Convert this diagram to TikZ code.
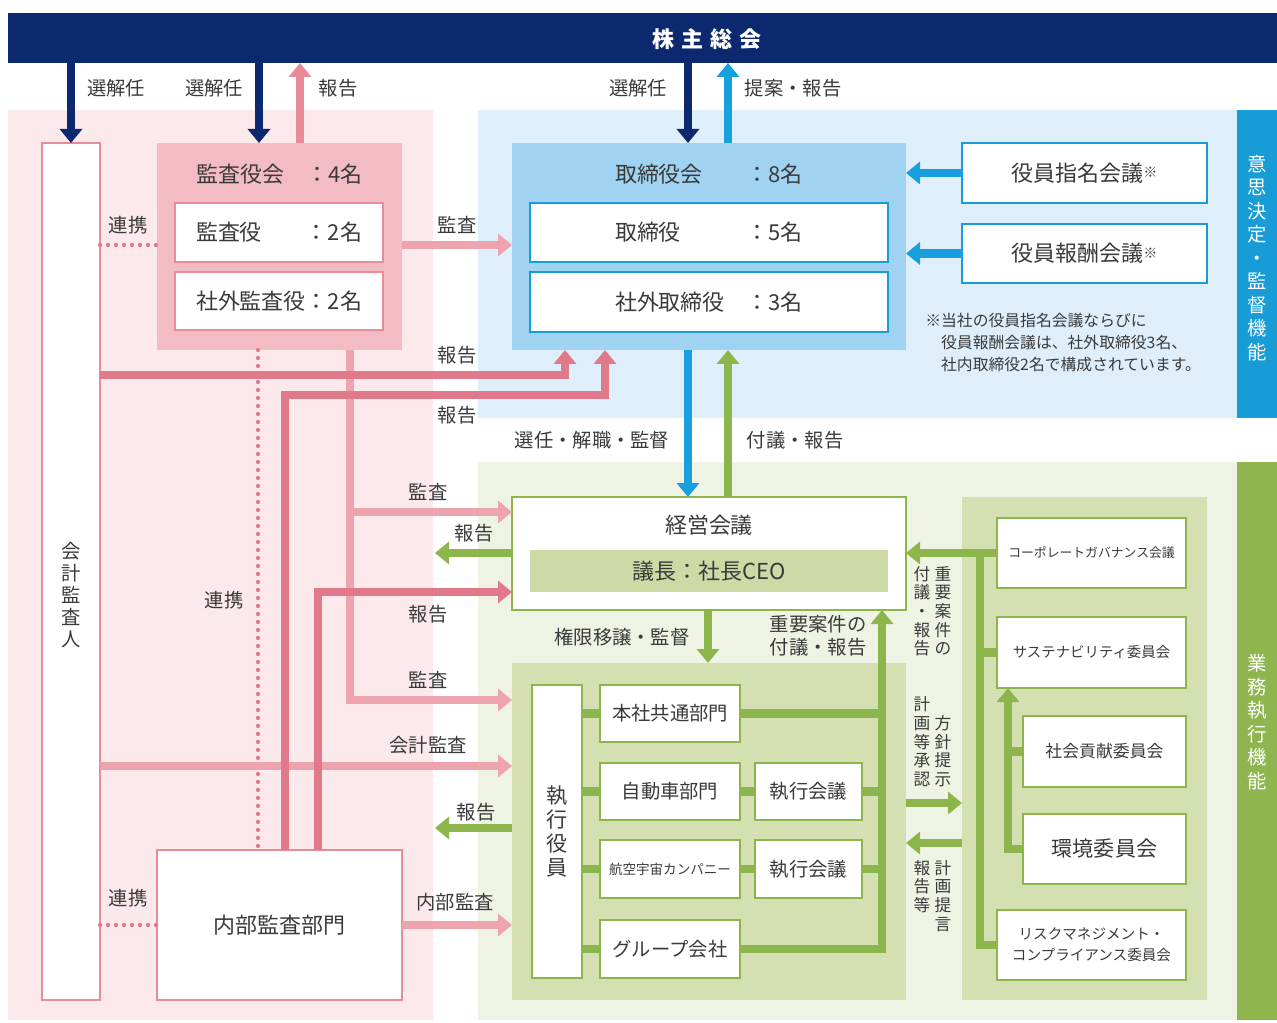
\documentclass[tikz,border=0pt]{standalone}
\usepackage{fontspec}
\setmainfont{Noto Sans CJK JP}
\usetikzlibrary{arrows.meta}

\definecolor{navyband}{RGB}{12,40,110}
\definecolor{barblue}{RGB}{24,156,216}
\definecolor{arrblue}{RGB}{24,160,222}
\definecolor{bgblue}{RGB}{222,238,250}
\definecolor{boardblue}{RGB}{160,210,242}
\definecolor{bgpink}{RGB}{251,233,236}
\definecolor{boxpink}{RGB}{243,188,196}
\definecolor{edgepink}{RGB}{232,140,154}
\definecolor{midpink}{RGB}{232,138,152}
\definecolor{darkpink}{RGB}{224,122,138}
\definecolor{lightpink}{RGB}{238,164,175}
\definecolor{bggreen}{RGB}{239,243,228}
\definecolor{boxgreen}{RGB}{212,223,178}
\definecolor{ceogreen}{RGB}{205,218,165}
\definecolor{linegreen}{RGB}{140,181,76}
\definecolor{bargreen}{RGB}{143,181,78}
\definecolor{txtgray}{RGB}{58,58,58}

\tikzset{
  sz/.style 2 args={minimum width=#1*0.02cm, minimum height=#2*0.02cm},
  plate/.style={inner sep=0pt, outer sep=0pt},
  box/.style={plate, draw, line width=0.04cm, fill=white, text=txtgray},
  ttl/.style={text=txtgray, font=\fontsize{12.5}{15}\selectfont},
  sub/.style={font=\fontsize{11}{13}\selectfont},
  lbl/.style={text=txtgray, inner sep=0pt, font=\fontsize{11}{13}\selectfont},
  vlbl/.style={text=txtgray, inner sep=0pt, align=center, font=\fontsize{9.5}{10.6}\selectfont},
  vtxt/.style={text=txtgray, inner sep=0pt, align=center, font=\fontsize{11}{12.5}\selectfont},
  bartxt/.style={text=white, inner sep=0pt, align=center, font=\fontsize{11}{13.4}\selectfont},
  arr/.style={line width=0.17cm, -{Triangle[width=0.44cm,length=0.28cm]}},
  gline/.style={line width=0.17cm, draw=linegreen},
  renkei/.style={draw=darkpink, line width=0.085cm, line cap=round, dash pattern=on 0pt off 0.16cm}
}

\begin{document}
\begin{tikzpicture}[x=0.02cm, y=-0.02cm]
\useasboundingbox (0,0) rectangle (1277,1023);
\fill[bgpink] (8,110) rectangle (433,1020);
\fill[bgblue] (478,110) rectangle (1237,418);
\fill[bggreen] (478,462) rectangle (1237,1020);
\fill[barblue] (1237,110) rectangle (1277,418);
\fill[bargreen] (1237,462) rectangle (1277,1020);
\node[bartxt] (kettei) at (1257,258) {意\\思\\決\\定\\・\\監\\督\\機\\能};
\node[bartxt] (gyomu) at (1257,722) {業\\務\\執\\行\\機\\能};

\node[plate, fill=navyband, sz={1269}{50}] (band) at (642.5,38) {};
\node[text=white, font=\bfseries\fontsize{12.5}{15}\selectfont] (soukai) at (707,39) {株\hspace{4pt}主\hspace{4pt}総\hspace{4pt}会};

\node[box, draw=edgepink, sz={58}{857}] (kaikei) at (71,571.5) {};
\node[vtxt] (kaikei-t) at (71,595) {会\\計\\監\\査\\人};
\node[plate, fill=boxpink, sz={245}{207}] (kansayakukai) at (279.5,246.5) {};
\node[ttl] (kansayakukai-t) at (279.5,174) {監査役会　：4名};
\node[box, draw=edgepink, sz={208}{59}, ttl] (kansayaku) at (279,232.5) {監査役　　：2名};
\node[box, draw=edgepink, sz={208}{58}, ttl] (shagaikansa) at (279,301) {社外監査役：2名};
\node[box, draw=edgepink, sz={245}{150}, ttl] (naibu) at (279.5,925) {内部監査部門};

\node[plate, fill=boardblue, sz={394}{207}] (torishimariyakukai) at (709,246.5) {};
\node[ttl] (torishimariyakukai-t) at (709,174) {取締役会　　：8名};
\node[box, draw=barblue, sz={358}{59}, ttl] (torishimari) at (709,232.5) {取締役　　　：5名};
\node[box, draw=barblue, sz={358}{60}, ttl] (shagaitori) at (709,302) {社外取締役　：3名};
\node[box, draw=barblue, sz={245}{60}, ttl] (shimei) at (1084.5,173) {役員指名会議{\fontsize{8}{8}\selectfont\raisebox{2pt}{※}}};
\node[box, draw=barblue, sz={245}{59}, ttl] (houshu) at (1084.5,253.5) {役員報酬会議{\fontsize{8}{8}\selectfont\raisebox{2pt}{※}}};
\node[anchor=north west, align=left, inner sep=0pt, text=txtgray, font=\fontsize{9}{12.5}\selectfont] (chuki) at (925,313) {※当社の役員指名会議ならびに\\\hspace*{1em}役員報酬会議は、社外取締役3名、\\\hspace*{1em}社内取締役2名で構成されています。};

\node[box, draw=linegreen, sz={394}{113}] (keiei) at (709,553.5) {};
\node[ttl] (keiei-t) at (709,525) {経営会議};
\node[plate, fill=ceogreen, sz={358}{42}, ttl] (ceo) at (709,571) {議長：社長CEO};
\node[plate, fill=boxgreen, sz={394}{337}] (shikko) at (709,831.5) {};
\node[box, draw=linegreen, sz={50}{293}, vtxt, font=\fontsize{12}{13.6}\selectfont] (shikkoyakuin) at (557,831.5) {執\\行\\役\\員};
\node[box, draw=linegreen, sz={140}{57}, sub] (honsha) at (670,713.5) {本社共通部門};
\node[box, draw=linegreen, sz={140}{57}, sub] (jidosha) at (670,791.5) {自動車部門};
\node[box, draw=linegreen, sz={107}{57}, sub] (kaigi1) at (808.5,791.5) {執行会議};
\node[box, draw=linegreen, sz={140}{58}, font=\fontsize{7.7}{9}\selectfont] (koku) at (670,869) {航空宇宙カンパニー};
\node[box, draw=linegreen, sz={107}{58}, sub] (kaigi2) at (808.5,869) {執行会議};
\node[box, draw=linegreen, sz={140}{58}, sub] (group) at (670,949) {グループ会社};

\node[plate, fill=boxgreen, sz={245}{503}] (iinkai) at (1084.5,748.5) {};
\node[box, draw=linegreen, sz={189}{70}, font=\fontsize{7.3}{9}\selectfont] (cg) at (1091.5,553) {コーポレートガバナンス会議};
\node[box, draw=linegreen, sz={189}{71}, font=\fontsize{8.2}{10}\selectfont] (sus) at (1091.5,652.5) {サステナビリティ委員会};
\node[box, draw=linegreen, sz={163}{71}, font=\fontsize{9.6}{11}\selectfont] (shakai) at (1104.5,751.5) {社会貢献委員会};
\node[box, draw=linegreen, sz={163}{70}, font=\fontsize{12}{14}\selectfont] (kankyo) at (1104.5,849) {環境委員会};
\node[box, draw=linegreen, sz={189}{70}, align=center, font=\fontsize{8.3}{12}\selectfont] (risk) at (1091.5,945) {リスクマネジメント・\\コンプライアンス委員会};

\draw[renkei] (kaikei.east |- 0,245) -- (kansayakukai.west |- 0,245);
\draw[renkei] (kaikei.east |- naibu.west) -- (naibu.west);
\draw[renkei] (kansayakukai.south -| 258,0) -- (naibu.north -| 258,0);

\draw[arr, navyband] (band.south -| kaikei.north) -- (kaikei.north);
\draw[arr, navyband] (band.south -| 259,0) -- (kansayakukai.north -| 259,0);
\draw[arr, midpink] (kansayakukai.north -| 300,0) -- (band.south -| 300,0);
\draw[arr, navyband] (band.south -| 688,0) -- (torishimariyakukai.north -| 688,0);
\draw[arr, arrblue] (torishimariyakukai.north -| 728,0) -- (band.south -| 728,0);

\draw[arr, lightpink] (kansayakukai.east |- 0,245) -- (torishimariyakukai.west |- 0,245);
\draw[arr, lightpink] (kansayakukai.south -| 350,0) |- (keiei.west |- 0,512);
\draw[arr, lightpink] (kansayakukai.south -| 350,0) |- (shikko.west |- 0,700);
\draw[arr, lightpink] (kaikei.east |- 0,766) -- (shikko.west |- 0,766);
\draw[arr, lightpink] (naibu.east) -- (shikko.west |- naibu.east);
\draw[arr, darkpink] (kaikei.east |- 0,375) -| (torishimariyakukai.south -| 565,0);
\draw[arr, darkpink] (naibu.north -| 285,0) |- (605,395) -- (torishimariyakukai.south -| 605,0);
\draw[arr, darkpink] (naibu.north -| 318,0) |- (keiei.west |- 0,592);

\draw[arr, arrblue] (torishimariyakukai.south -| 688,0) -- (keiei.north -| 688,0);
\draw[arr, linegreen] (keiei.north -| 728,0) -- (torishimariyakukai.south -| 728,0);
\draw[arr, arrblue] (shimei.west) -- (torishimariyakukai.east |- shimei.west);
\draw[arr, arrblue] (houshu.west) -- (torishimariyakukai.east |- houshu.west);
\coordinate (hokokuA) at (435,553);
\draw[arr, linegreen] (keiei.west |- hokokuA) -- (hokokuA);
\draw[arr, linegreen] (keiei.south -| 708,0) -- (shikko.north -| 708,0);
\coordinate (hokokuB) at (435,828);
\draw[arr, linegreen] (shikko.west |- hokokuB) -- (hokokuB);

\foreach \b in {honsha,jidosha,koku,group}
  \draw[gline] (shikkoyakuin.east |- \b.west) -- (\b.west);
\draw[gline] (jidosha.east) -- (kaigi1.west);
\draw[gline] (koku.east) -- (kaigi2.west);
\coordinate (strunk) at (882,0);
\draw[arr, linegreen] (group.east) -| (keiei.south -| strunk);
\foreach \b in {honsha,kaigi1,kaigi2}
  \draw[gline] (\b.east) -- (\b.east -| strunk);

\draw[arr, linegreen] (shikko.east |- 0,803) -- (iinkai.west |- 0,803);
\draw[arr, linegreen] (iinkai.west |- 0,843) -- (shikko.east |- 0,843);
\draw[arr, linegreen] (cg.west) -- (keiei.east |- cg.west);
\coordinate (ctrunk) at (980,0);
\draw[gline] (cg.west -| ctrunk) |- (risk.west);
\draw[gline] (sus.west -| ctrunk) -- (sus.west);
\coordinate (itrunk) at (1008,0);
\draw[arr, linegreen] (kankyo.west) -| (sus.south -| itrunk);
\draw[gline] (shakai.west -| itrunk) -- (shakai.west);

\node[lbl] (lsen1) at (116,88) {選解任};
\node[lbl] (lsen2) at (214,88) {選解任};
\node[lbl] (lhou0) at (338,88) {報告};
\node[lbl] (lsen3) at (638,88) {選解任};
\node[lbl] (lteian) at (793,88) {提案・報告};
\node[lbl] (lren1) at (128,225) {連携};
\node[lbl] (lkan1) at (457,225) {監査};
\node[lbl] (lhou1) at (457,355) {報告};
\node[lbl] (lhou2) at (457,415) {報告};
\node[lbl] (lsennin) at (592,440) {選任・解職・監督};
\node[lbl] (lfugi) at (795,440) {付議・報告};
\node[lbl] (lkan2) at (428,492) {監査};
\node[lbl] (lhou3) at (474,533) {報告};
\node[lbl] (lren2) at (224,600) {連携};
\node[lbl] (lhou4) at (428,614) {報告};
\node[lbl] (lkengen) at (622,637) {権限移譲・監督};
\node[lbl, align=center, font=\fontsize{11}{13}\selectfont] (ljuyo) at (818,636) {重要案件の\\付議・報告};
\node[lbl] (lkan3) at (428,680) {監査};
\node[lbl] (lkaikei) at (428,745) {会計監査};
\node[lbl] (lhou5) at (476,812) {報告};
\node[lbl] (lren3) at (128,898) {連携};
\node[lbl] (lnaibu) at (455,902) {内部監査};
\node[vlbl, anchor=north] (vfugi) at (922,566) {付\\議\\・\\報\\告};
\node[vlbl, anchor=north] (vjuyo) at (943,566) {重\\要\\案\\件\\の};
\node[vlbl, anchor=south] (vshonin) at (922,787) {計\\画\\等\\承\\認};
\node[vlbl, anchor=south] (vhoshin) at (943,787) {方\\針\\提\\示};
\node[vlbl, anchor=north] (vhokoku) at (922,860) {報\\告\\等};
\node[vlbl, anchor=north] (vteigen) at (943,860) {計\\画\\提\\言};
\end{tikzpicture}
\end{document}
